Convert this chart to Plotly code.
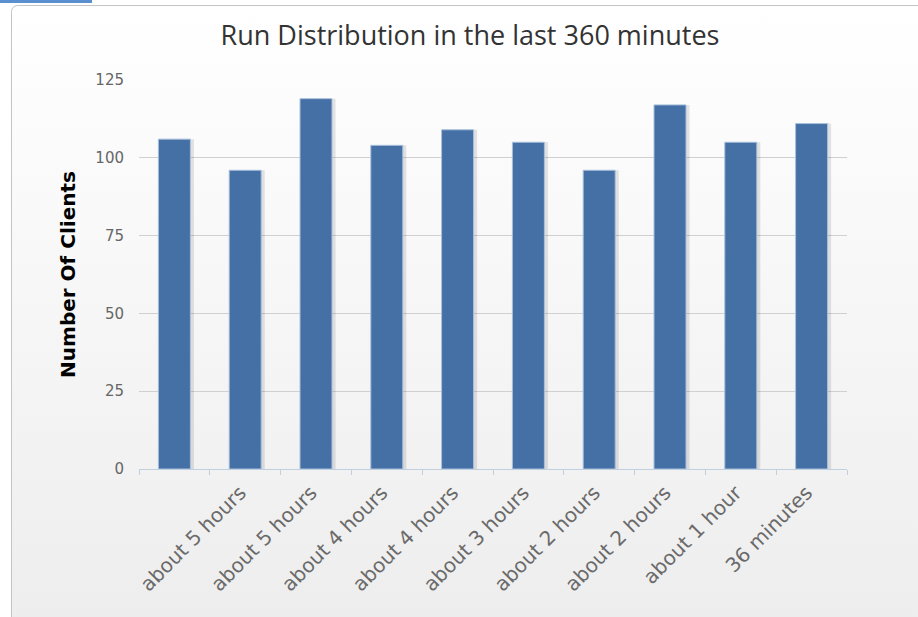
import base64
import plotly.graph_objects as go

# ---- data ----
positions = [0, 1, 2, 3, 4, 5, 6, 7, 8, 9]
clients = [106, 96, 119, 104, 109, 105, 96, 117, 105, 111]
tick_labels = ["", "about 5 hours", "about 5 hours", "about 4 hours", "about 4 hours",
               "about 3 hours", "about 2 hours", "about 2 hours", "about 1 hour", "36 minutes"]
y_ticks = [0, 25, 50, 75, 100, 125]
boundaries = [-0.5 + i for i in range(11)]

W, H = 918, 617
ML, MR, MT, MB = 139, 71, 80, 148
PW, PH = W - ML - MR, H - MT - MB

bar_w = 0.452

fig = go.Figure()
# soft shadow behind bars
fig.add_trace(go.Bar(
    x=positions, y=clients, width=bar_w + 0.05, offset=-bar_w / 2,
    marker=dict(color="rgba(0,0,0,0.10)", line=dict(width=0)),
    hoverinfo="skip", showlegend=False,
))
fig.add_trace(go.Bar(
    x=positions, y=clients, width=bar_w, offset=-bar_w / 2,
    marker=dict(color="#4470A6", line=dict(color="#A9C0DC", width=1)),
    showlegend=False, name="Clients",
))

svg = (
    f'<svg xmlns="http://www.w3.org/2000/svg" width="{W}" height="{H}">'
    '<defs><linearGradient id="g" x1="0" y1="0" x2="0" y2="1">'
    '<stop offset="0" stop-color="#ffffff"/><stop offset="1" stop-color="#ebebeb"/>'
    '</linearGradient></defs>'
    '<rect x="11.5" y="5.5" width="960" height="700" rx="6" ry="6" '
    'fill="url(#g)" stroke="#c4c4c4" stroke-width="1"/>'
    '<rect x="0" y="0" width="92" height="3" fill="#5b8fd0"/>'
    '</svg>'
)
src = "data:image/svg+xml;base64," + base64.b64encode(svg.encode()).decode()

fig.update_layout(
    width=W, height=H,
    margin=dict(l=ML, r=MR, t=MT, b=MB, pad=0),
    paper_bgcolor="white",
    plot_bgcolor="rgba(0,0,0,0)",
    barmode="overlay",
    font=dict(family="DejaVu Sans", color="#666666"),
    title=dict(
        text="Run Distribution in the last 360 minutes",
        x=470 / W, xanchor="center", y=1 - 36 / H, yanchor="middle",
        font=dict(family="Open Sans", size=27, color="#333333"),
    ),
    images=[dict(
        source=src, xref="paper", yref="paper",
        x=-ML / PW, y=1 + MT / PH, sizex=W / PW, sizey=H / PH,
        xanchor="left", yanchor="top", sizing="stretch", layer="below",
    )],
    xaxis=dict(
        range=[-0.5, 9.5],
        tickmode="array", tickvals=positions, ticktext=tick_labels,
        tickangle=-45, ticks="outside", ticklen=3, tickcolor="rgba(0,0,0,0)",
        ticklabelshift=-5,
        tickfont=dict(family="DejaVu Sans", size=20, color="#6a6a6a"),
        showgrid=False, zeroline=False,
        showline=True, linecolor="#C0D0E0", linewidth=1,
    ),
    xaxis2=dict(
        range=[-0.5, 9.5], overlaying="x", side="bottom", anchor="y",
        tickmode="array", tickvals=boundaries, ticks="outside", ticklen=5,
        tickcolor="#C0D0E0", showticklabels=False, showgrid=False, zeroline=False,
        showline=False,
    ),
    yaxis=dict(
        range=[0, 125], tickmode="array", tickvals=y_ticks,
        showgrid=True, gridcolor="#D0D0D0", gridwidth=1, zeroline=False,
        ticks="", ticklabelstandoff=14,
        tickfont=dict(family="DejaVu Sans", size=15, color="#666666"),
        title=dict(text="<b>Number Of Clients</b>", standoff=14,
                   font=dict(family="DejaVu Sans", size=20, color="#000000")),
    ),
)
# invisible trace to activate xaxis2 ticks
fig.add_trace(go.Scatter(x=[-0.5, 9.5], y=[0, 0], xaxis="x2", mode="none",
                         hoverinfo="skip", showlegend=False))

fig.write_html("out.html", config={"displayModeBar": False},
               post_script="document.body.style.margin='0';document.body.style.padding='0';")
